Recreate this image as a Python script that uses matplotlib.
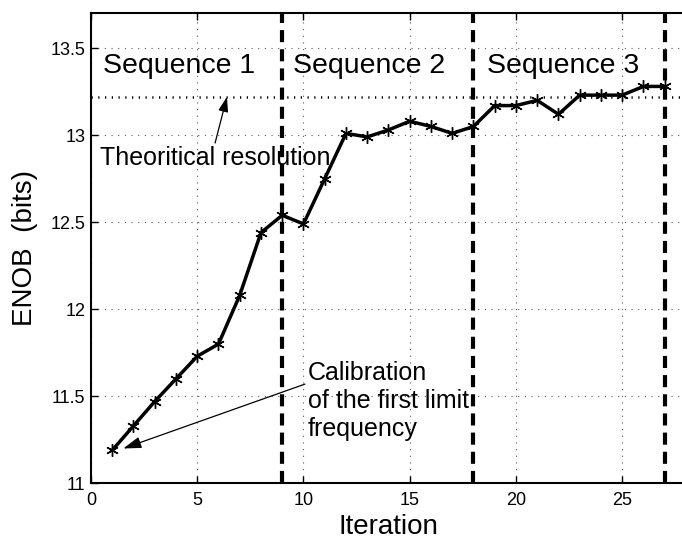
import matplotlib
matplotlib.use("Agg")
import matplotlib.pyplot as plt
import numpy as np

plt.rcParams['font.family'] = ['Liberation Sans', 'DejaVu Sans']

# ENOB per calibration iteration
iterations = np.arange(1, 28)
enob = [11.19, 11.33, 11.47, 11.60, 11.73, 11.80, 12.08, 12.44, 12.54,
        12.49, 12.75, 13.01, 12.99, 13.03, 13.08, 13.05, 13.01, 13.05,
        13.17, 13.17, 13.20, 13.12, 13.23, 13.23, 13.23, 13.28, 13.28]

sequence_ends = [9, 18, 27]
sequence_labels = ['Sequence 1', 'Sequence 2', 'Sequence 3']
sequence_label_x = [0.55, 9.52, 18.62]
theoretical = 13.22

fig = plt.figure(figsize=(6.82, 5.39), dpi=100)
ax = fig.add_axes([0.1334, 0.1033, 0.8724, 0.872])

ax.set_xlim(0, 28)
ax.set_ylim(11, 13.7)
ax.set_xticks([0, 5, 10, 15, 20, 25])
ax.set_yticks([11, 11.5, 12, 12.5, 13, 13.5])
ax.set_yticklabels(['11', '11.5', '12', '12.5', '13', '13.5'])

ax.grid(True, color='0.35', linewidth=0.8, linestyle=(0, (1, 5)))
ax.set_axisbelow(True)

# theoretical resolution
ax.axhline(theoretical, color='k', linewidth=1.8, linestyle=(0, (0.5, 2.2)))

# sequence boundaries
for xe in sequence_ends:
    ax.axvline(xe, color='k', linewidth=3, linestyle=(0, (2.9, 1.7)))

ax.plot(iterations, enob, color='k', linewidth=2.5,
        marker=(6, 2, 0), markersize=9, markeredgewidth=1, markeredgecolor='k')

for xs, lab in zip(sequence_label_x, sequence_labels):
    ax.text(xs, 13.355, lab, fontsize=20.5, va='baseline', ha='left')

ax.text(0.42, 12.828, 'Theoritical resolution', fontsize=18, va='baseline', ha='left')
ax.annotate('', xy=(6.4, theoretical), xytext=(5.84, 12.955),
            arrowprops=dict(arrowstyle='-|>,head_length=0.9,head_width=0.3',
                            color='k', lw=0.9, shrinkA=0, shrinkB=0))

ax.text(10.2, 11.70, 'Calibration\nof the first limit\nfrequency', fontsize=18,
        va='top', ha='left', linespacing=1.2)
ax.annotate('', xy=(1.52, 11.20), xytext=(10.07, 11.57),
            arrowprops=dict(arrowstyle='-|>,head_length=1.1,head_width=0.35',
                            color='k', lw=0.9, shrinkA=0, shrinkB=0))

ax.tick_params(direction='in', top=True, right=False, length=5, width=1,
               labelsize=13)
ax.tick_params(axis='x', pad=6)
ax.tick_params(axis='y', pad=4)
for s in ax.spines.values():
    s.set_linewidth(1.5)

ax.set_xlabel('Iteration', fontsize=20)
ax.set_ylabel('ENOB  (bits)', fontsize=20)
ax.xaxis.set_label_coords(0.5, -0.066)
ax.yaxis.set_label_coords(-0.089, 0.5)

fig.savefig('out.png', dpi=100)
